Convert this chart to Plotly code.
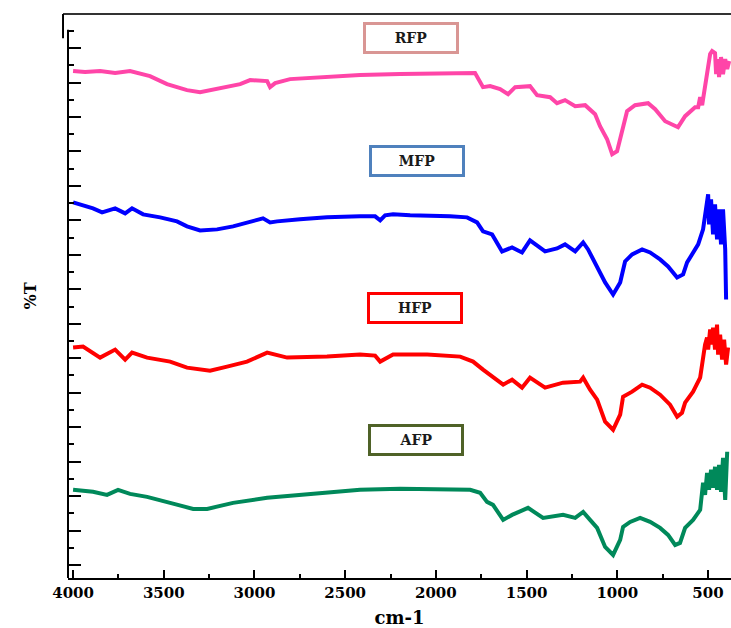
import plotly.graph_objects as go

# Wavenumbers (cm-1) and %T (offset, arbitrary units)
rfp_wn = [4000, 3934, 3851, 3768, 3686, 3631, 3576, 3482, 3372, 3300, 3190, 3079, 3024, 2969, 2930, 2914, 2886, 2804, 2583, 2418, 2197, 1977, 1784, 1740, 1701, 1646, 1602, 1563, 1481, 1442, 1370, 1332, 1288, 1232, 1177, 1122, 1095, 1056, 1028, 1001, 973, 946, 902, 830, 791, 736, 665, 626, 571, 554, 543, 532, 527, 516, 499, 488, 477, 461, 455, 444, 439, 428, 417, 405, 394, 383]
rfp_t = [506, 505, 506, 504, 506, 504, 501, 493, 487, 485, 489, 493, 497, 497, 496, 490, 494, 498, 500, 502, 503, 504, 504, 490, 491, 488, 483, 490, 491, 482, 480, 474, 477, 471, 472, 463, 451, 438, 423, 426, 448, 466, 472, 474, 468, 456, 450, 461, 470, 470, 480, 472, 478, 490, 513, 523, 526, 524, 503, 518, 500, 520, 503, 518, 508, 516]

mfp_wn = [4000, 3890, 3840, 3768, 3713, 3675, 3614, 3520, 3427, 3372, 3300, 3206, 3118, 3041, 2953, 2914, 2875, 2749, 2600, 2418, 2335, 2307, 2280, 2236, 2142, 1922, 1828, 1773, 1740, 1690, 1635, 1580, 1525, 1481, 1398, 1332, 1288, 1232, 1188, 1161, 1111, 1067, 1023, 984, 957, 918, 863, 819, 764, 720, 670, 637, 615, 582, 554, 527, 516, 499, 494, 483, 472, 461, 450, 439, 428, 417, 405, 400]
mfp_t = [375, 369, 365, 369, 364, 369, 363, 360, 356, 351, 347, 348, 351, 355, 359, 355, 356, 358, 360, 361, 361, 357, 362, 363, 362, 361, 360, 355, 346, 343, 326, 330, 325, 337, 326, 329, 333, 326, 335, 328, 311, 295, 283, 295, 316, 323, 328, 325, 318, 311, 300, 303, 315, 325, 333, 348, 365, 383, 353, 378, 343, 373, 338, 368, 333, 368, 328, 278]

hfp_wn = [4000, 3945, 3851, 3768, 3713, 3675, 3592, 3465, 3372, 3245, 3151, 3041, 2930, 2820, 2600, 2418, 2335, 2307, 2236, 2048, 1866, 1795, 1740, 1685, 1629, 1580, 1525, 1481, 1398, 1299, 1205, 1188, 1150, 1111, 1067, 1023, 984, 968, 918, 863, 819, 764, 709, 670, 643, 626, 582, 543, 527, 516, 505, 499, 488, 477, 472, 461, 450, 444, 433, 422, 411, 400, 389]
hfp_t = [230, 231, 220, 228, 218, 225, 220, 216, 210, 207, 211, 216, 225, 220, 221, 223, 222, 216, 223, 223, 221, 216, 208, 201, 193, 198, 190, 200, 190, 195, 196, 200, 188, 178, 156, 148, 163, 181, 186, 193, 190, 183, 173, 161, 165, 175, 186, 200, 220, 233, 240, 228, 248, 233, 250, 228, 253, 223, 243, 218, 238, 213, 230]

afp_wn = [4000, 3890, 3813, 3752, 3686, 3592, 3465, 3338, 3261, 3118, 2930, 2787, 2567, 2418, 2197, 1866, 1811, 1756, 1718, 1685, 1629, 1580, 1536, 1492, 1409, 1299, 1232, 1188, 1150, 1111, 1067, 1023, 984, 968, 929, 874, 819, 764, 720, 681, 654, 626, 582, 543, 527, 516, 505, 494, 483, 472, 461, 450, 439, 428, 417, 405, 394]
afp_t = [88, 86, 83, 88, 84, 81, 75, 69, 69, 75, 80, 82, 86, 88, 89, 88, 88, 85, 76, 73, 58, 63, 66, 70, 60, 63, 60, 66, 58, 50, 31, 23, 38, 51, 56, 60, 56, 50, 43, 33, 35, 50, 58, 68, 95, 83, 105, 88, 108, 90, 111, 88, 113, 86, 120, 78, 126]

series_names = ["RFP", "MFP", "HFP", "AFP"]
series_colors = ["#ff45a8", "#0000ff", "#ff0000", "#00895a"]
box_colors = ["#d99694", "#4f81bd", "#ff0000", "#4f6228"]
label_wn = [2137, 2106, 2115, 2109]
label_t = [539, 416, 270, 138]

x_ticks = [4000, 3500, 3000, 2500, 2000, 1500, 1000, 500]

series_x = [rfp_wn, mfp_wn, hfp_wn, afp_wn]
series_y = [rfp_t, mfp_t, hfp_t, afp_t]

FONT = "DejaVu Serif"

fig = go.Figure()
for name, xs, ys, col in zip(series_names, series_x, series_y, series_colors):
    fig.add_trace(go.Scatter(x=xs, y=ys, mode="lines", name=name,
                             line=dict(color=col, width=4), showlegend=False))

for name, xv, yv, bc in zip(series_names, label_wn, label_t, box_colors):
    fig.add_annotation(x=xv, y=yv, xref="x", yref="y", text="<b>%s</b>" % name,
                       showarrow=False, font=dict(family=FONT, size=14, color="#1a1a1a"),
                       bgcolor="white", bordercolor=bc, borderwidth=3, borderpad=2,
                       width=86, height=22)

fig.update_layout(
    width=731, height=628,
    margin=dict(l=68, r=0, t=14, b=50),
    paper_bgcolor="white", plot_bgcolor="white",
    xaxis=dict(range=[4028, 373], tickvals=x_ticks, ticktext=[str(v) for v in x_ticks],
               showline=True, linecolor="black", linewidth=2, ticks="inside", ticklen=8,
               tickwidth=2, tickcolor="black", showgrid=False, zeroline=False,
               minor=dict(ticks="inside", ticklen=4, tickwidth=2, tickcolor="black", dtick=250, tick0=0),
               tickfont=dict(family=FONT, size=15, color="black", weight="bold"),
               title=dict(text="<b>cm-1</b>", font=dict(family=FONT, size=18, color="black"), standoff=10),
               automargin=False),
    yaxis=dict(range=[0, 563], showline=False, showticklabels=False, ticks="inside", ticklen=13,
               tickwidth=2, tickcolor="black", dtick=34.4, tick0=13, showgrid=False, zeroline=False,
               minor=dict(ticks="inside", ticklen=6, tickwidth=2, tickcolor="black", dtick=17.2, tick0=13),
               title=dict(text="<b>%T</b>", font=dict(family=FONT, size=16, color="black"), standoff=26),
               automargin=False),
)

# frame lines (left axis from just below top, top rule)
fig.add_shape(type="line", xref="paper", yref="paper", x0=0, x1=0, y0=0, y1=0.972,
              line=dict(color="black", width=2))
fig.add_shape(type="line", xref="paper", yref="paper", x0=-0.0075, x1=1, y0=1, y1=1,
              line=dict(color="#333333", width=2))
fig.add_shape(type="line", xref="paper", yref="paper", x0=-0.0075, x1=-0.0075, y0=0.957, y1=1,
              line=dict(color="black", width=2))

fig.write_html("out.html", config={"displayModeBar": False},
               post_script="document.body.style.margin='0px';")
